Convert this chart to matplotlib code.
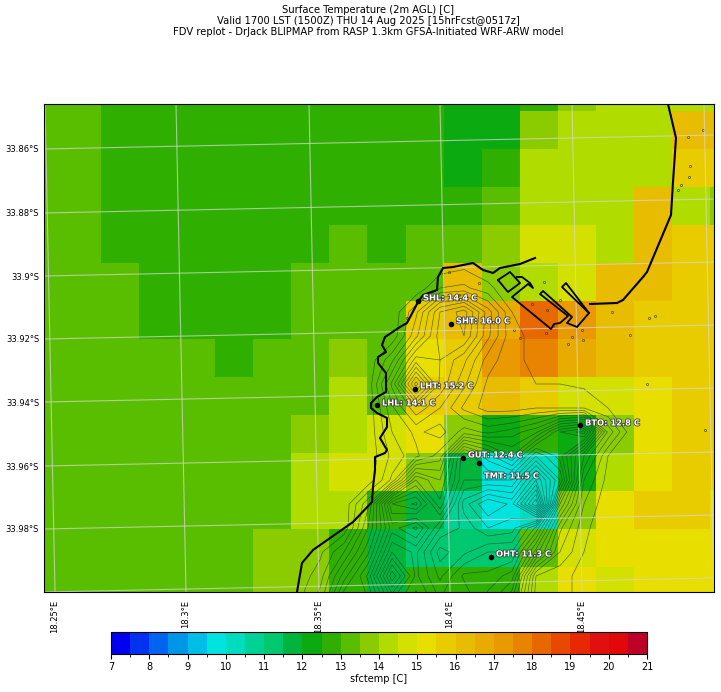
import numpy as np
import matplotlib
matplotlib.use("Agg")
import matplotlib.pyplot as plt
import matplotlib.patheffects as pe
from matplotlib.colors import ListedColormap, BoundaryNorm

W, H = 721, 692

title = ("Surface Temperature (2m AGL) [C]\n"
         "Valid 1700 LST (1500Z) THU 14 Aug 2025 [15hrFcst@0517z]\n"
         "FDV replot - DrJack BLIPMAP from RASP 1.3km GFSA-Initiated WRF-ARW model")

# colour levels of the sfctemp scale
levels = np.arange(7, 21.5, 0.5)
level_colors = ["#0000F0", "#0032F0", "#0064F0", "#0096E8", "#00BEE8", "#00E4E0", "#00DCC0",
                "#00D296", "#00C86E", "#00B43C", "#0AAA10", "#2FB000", "#5ABE00", "#8ACC00",
                "#B0DC00", "#D4E000", "#E8DE00", "#E8CC00", "#E8BC00", "#E8AC00", "#E89A00",
                "#E88400", "#E86800", "#E84800", "#E82800", "#E01010", "#E00808", "#BE0028"]

# surface temperature on the model grid, north to south
sfctemp = np.array([
    [13.25, 13.25, 12.75, 12.75, 12.75, 12.75, 12.75, 12.75, 12.75, 12.75, 12.75, 12.25, 12.25, 12.75, 13.75, 14.25, 14.25, 14.25, 14.25],
    [13.25, 13.25, 12.75, 12.75, 12.75, 12.75, 12.75, 12.75, 12.75, 12.75, 12.75, 12.25, 12.25, 13.75, 14.25, 14.25, 14.25, 16.25, 16.25],
    [13.25, 13.25, 12.75, 12.75, 12.75, 12.75, 12.75, 12.75, 12.75, 12.75, 12.75, 12.25, 12.75, 14.25, 14.25, 14.25, 14.25, 15.75, 15.75],
    [13.25, 13.25, 12.75, 12.75, 12.75, 12.75, 12.75, 12.75, 12.75, 12.75, 12.75, 12.75, 13.25, 14.25, 14.25, 14.25, 16.25, 14.25, 13.75],
    [13.25, 13.25, 12.75, 12.75, 12.75, 12.75, 12.75, 12.75, 13.25, 12.75, 13.25, 13.25, 13.75, 14.75, 14.75, 14.25, 16.25, 15.75, 15.75],
    [13.25, 13.25, 13.25, 12.75, 12.75, 12.75, 12.75, 13.25, 13.25, 13.25, 13.25, 16.25, 13.75, 14.25, 14.75, 16.25, 16.25, 15.75, 15.75],
    [13.25, 13.25, 13.25, 12.75, 12.75, 12.75, 12.75, 13.25, 13.25, 13.25, 15.75, 16.25, 16.75, 18.25, 17.25, 16.25, 15.75, 15.75, 15.75],
    [13.25, 13.25, 13.25, 13.25, 13.25, 12.75, 13.25, 13.25, 13.75, 13.25, 15.25, 15.75, 17.25, 17.75, 16.75, 16.25, 15.75, 15.75, 15.75],
    [13.25, 13.25, 13.25, 13.25, 13.25, 13.25, 13.25, 13.25, 14.25, 13.25, 15.75, 15.75, 16.25, 15.75, 14.75, 14.75, 15.25, 15.75, 15.75],
    [13.25, 13.25, 13.25, 13.25, 13.25, 13.25, 13.25, 13.75, 14.25, 14.75, 15.25, 13.75, 12.25, 12.75, 12.25, 13.75, 15.25, 15.75, 15.75],
    [13.25, 13.25, 13.25, 13.25, 13.25, 13.25, 13.25, 14.25, 14.75, 14.75, 13.75, 11.75, 9.75, 10.25, 12.25, 14.25, 15.25, 15.75, 15.75],
    [13.25, 13.25, 13.25, 13.25, 13.25, 13.25, 13.25, 14.25, 14.25, 12.75, 11.75, 10.75, 9.75, 10.25, 13.75, 15.25, 15.75, 15.75, 15.25],
    [13.25, 13.25, 13.25, 13.25, 13.25, 13.25, 13.75, 13.75, 12.75, 11.75, 11.25, 11.25, 11.25, 13.25, 14.75, 15.25, 15.25, 15.25, 15.25],
    [13.25, 13.25, 13.25, 13.25, 13.25, 13.25, 13.75, 13.75, 12.75, 11.75, 12.75, 12.75, 12.75, 14.25, 15.25, 14.75, 15.25, 15.25, 15.25],
])

# map coordinates
coast_x = [297, 302, 313, 353, 372, 373, 375, 375, 385, 387, 380, 387, 387, 377, 371, 371, 377, 386, 386, 378, 378,
           386, 382, 385, 400, 407, 418, 423, 437, 438, 443, 453, 473, 483, 493, 500, 520, 535]
coast_y = [592, 563, 550, 522, 502, 487, 470, 457, 453, 450, 438, 427, 418, 413, 408, 403, 397, 392, 373, 363, 357,
           352, 345, 337, 327, 323, 302, 295, 290, 277, 268, 267, 263, 270, 273, 268, 264, 258]
bay_x = [668, 676, 673, 671, 647, 643, 623, 617, 590]
bay_y = [104, 138, 182, 215, 272, 277, 300, 303, 304]
basin_x = [498, 510, 520, 508, 498]
basin_y = [280, 272, 283, 292, 280]
quay_x = [517, 522, 530, 533, 528, 512, 551, 554, 560, 568, 540, 543, 572, 567, 577, 589, 566, 562, 589]
quay_y = [277, 277, 283, 288, 284, 297, 329, 324, 323, 316, 294, 291, 317, 323, 327, 313, 283, 287, 313]

# rough ground height on a coarse grid over the peninsula
terrain_x = [296, 320, 344, 368, 392, 416, 440, 464, 488, 512, 536, 560, 584, 608, 632, 656]
terrain_y = [264, 288, 312, 336, 360, 384, 408, 432, 456, 480, 504, 528, 552, 576, 600]
terrain = np.array([
    [-10, -10, -10, -10, -10, -10, -10, 5, -10, -10, -10, -10, -10, -10, -10, -10],
    [-10, -10, -10, -10, -10, -10, 60, 70, 30, -10, -10, -10, -10, -10, -10, -10],
    [-10, -10, -10, -10, -10, 90, 260, 320, 160, 20, -10, -10, -10, -10, -10, -10],
    [-10, -10, -10, -10, -10, 130, 280, 300, 150, 30, 10, -10, -10, -10, -10, -10],
    [-10, -10, -10, -10, 90, 280, 260, 190, 80, 30, 10, 5, -10, -10, -10, -10],
    [-10, -10, -10, -10, 190, 480, 250, 150, 50, 30, 20, 20, 10, -10, -10, -10],
    [-10, -10, -10, -10, 130, 250, 180, 90, 40, 40, 60, 60, 60, 20, -10, -10],
    [-10, -10, -10, -10, 100, 150, 120, 200, 170, 200, 250, 420, 480, 130, -10, -10],
    [-10, -10, -10, -10, 70, 130, 200, 500, 400, 300, 500, 400, 180, 20, -10, -10],
    [-10, -10, -10, -10, 110, 380, 300, 500, 500, 500, 700, 500, 100, 5, -10, -10],
    [-10, -10, -10, 130, 500, 550, 350, 600, 700, 650, 900, 300, 60, -10, -10, -10],
    [-10, -10, -10, 180, 400, 330, 500, 550, 620, 600, 450, 150, 30, -10, -10, -10],
    [-10, 10, 100, 250, 500, 450, 600, 550, 500, 500, 280, 100, 20, 10, -10, -10],
    [-10, 40, 200, 350, 650, 450, 550, 450, 450, 400, 60, 30, 10, 5, -10, -10],
    [5, 80, 300, 300, 500, 400, 500, 500, 400, 300, 40, 30, 10, -10, -10, -10],
])

station_names = ["SHL", "SHT", "LHT", "LHL", "BTO", "GUT", "TMT", "OHT"]
station_temps = [14.4, 16.0, 15.2, 14.1, 12.8, 12.4, 11.5, 11.3]
station_x = [418, 451, 415, 377, 580, 463, 479, 491]
station_y = [301, 324, 389, 405, 425, 458, 463, 557]
label_dx = [5, 5, 5, 5, 5, 5, 5, 5]
label_dy = [-3, -3, -3, -2, -2, -3, 13, -3]

speck_x = [703, 688, 690, 689, 678, 681, 649, 630, 612, 655, 705, 647, 583, 520, 514, 546, 560, 532, 544, 568, 582, 479, 459, 449, 455, 407, 572, 547, 553]
speck_y = [130, 137, 166, 177, 190, 185, 318, 335, 312, 316, 430, 384, 340, 338, 330, 333, 300, 304, 282, 344, 330, 283, 295, 272, 298, 318, 337, 310, 326]

lat_labels = ["33.86\u00b0S", "33.88\u00b0S", "33.9\u00b0S", "33.92\u00b0S", "33.94\u00b0S", "33.96\u00b0S", "33.98\u00b0S"]
lat_ticks = [149, 213, 276, 339, 402, 466, 529]
lon_labels = ["18.25\u00b0E", "18.3\u00b0E", "18.35\u00b0E", "18.4\u00b0E", "18.45\u00b0E"]
lon_ticks = [55, 186, 319, 450, 582]

fig = plt.figure(figsize=(W / 100, H / 100), dpi=100)
ax = fig.add_axes([44 / W, 1 - 592 / H, 670 / W, 488 / H])

cmap = ListedColormap(level_colors)
norm = BoundaryNorm(levels, cmap.N)
x_edges = 25 + 38.05 * np.arange(sfctemp.shape[1] + 1)
y_edges = 73 + 38.0 * np.arange(sfctemp.shape[0] + 1)
mesh = ax.pcolormesh(x_edges, y_edges, sfctemp, cmap=cmap, norm=norm, antialiased=False)

# terrain
ax.contour(terrain_x, terrain_y, terrain, levels=np.arange(20, 900, 40),
           colors="#1c3a30", linewidths=0.45, alpha=0.75)
ax.plot(speck_x, speck_y, ls="none", marker="o", ms=1.6, mfc="none", mec="#2a3a20", mew=0.4)

# lat/lon lines, a little tilted by the projection
for x0 in lon_ticks + [714]:
    ax.plot([x0 - 10, x0], [104, 592], color="#d8d8d8", lw=0.8, alpha=0.7)
for y0 in lat_ticks + [592]:
    ax.plot([44, 714], [y0, y0 - 14], color="#d8d8d8", lw=0.8, alpha=0.7)

# coast and harbour
ax.plot(coast_x, coast_y, color="k", lw=1.5)
ax.plot(bay_x, bay_y, color="k", lw=1.5)
ax.plot(basin_x, basin_y, color="k", lw=1.3)
ax.plot(quay_x, quay_y, color="k", lw=1.3)

ax.plot(station_x, station_y, ls="none", marker="o", ms=3, color="k")
for i, name in enumerate(station_names):
    ax.text(station_x[i] + label_dx[i], station_y[i] + label_dy[i], "%s: %.1f C" % (name, station_temps[i]),
            color="white", fontsize=6, fontweight="bold", va="center",
            path_effects=[pe.withStroke(linewidth=1.2, foreground="#404040")])

ax.set_xlim(44, 714)
ax.set_ylim(592, 104)
ax.set_xticks(lon_ticks)
ax.set_xticklabels(lon_labels, rotation=90, fontsize=6)
ax.set_yticks(lat_ticks)
ax.set_yticklabels(lat_labels, fontsize=6)
ax.tick_params(axis="both", length=0)
ax.tick_params(axis="x", pad=5.5)
ax.tick_params(axis="y", pad=3.5)

fig.text(368 / W, 1 - 5 / H, title, ha="center", va="top", fontsize=7.2, linespacing=1.1)

cax = fig.add_axes([111 / W, 1 - 654 / H, 536 / W, 22 / H])
cbar = fig.colorbar(mesh, cax=cax, orientation="horizontal", ticks=np.arange(7, 22))
cbar.ax.set_xticks(levels, minor=True)
cbar.ax.tick_params(axis="x", which="major", length=3.5, labelsize=7, pad=2)
cbar.ax.tick_params(axis="x", which="minor", length=2)
cbar.set_label("sfctemp [C]", fontsize=7, labelpad=2)

fig.savefig("out.png", dpi=100)
